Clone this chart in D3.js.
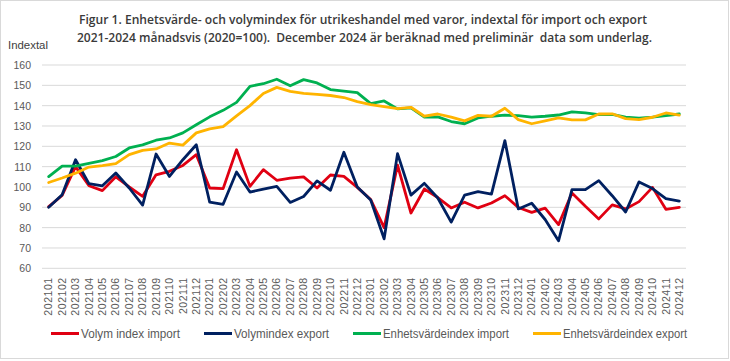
<!DOCTYPE html>
<html><head><meta charset="utf-8">
<script src="https://cdn.jsdelivr.net/npm/d3@7"></script>
<style>
html,body{margin:0;padding:0;background:#fff;}
svg{display:block;}
text{font-family:"Liberation Sans","Noto Sans",Arial,sans-serif;}
.title{font-family:"Open Sans","Liberation Sans",sans-serif;font-weight:600;white-space:pre;}
</style></head>
<body>
<svg id="chart" width="730" height="361"></svg>
<script>
const months = ["202101","202102","202103","202104","202105","202106","202107","202108","202109","202110","202111","202112",
"202201","202202","202203","202204","202205","202206","202207","202208","202209","202210","202211","202212",
"202301","202302","202303","202304","202305","202306","202307","202308","202309","202310","202311","202312",
"202401","202402","202403","202404","202405","202406","202407","202408","202409","202410","202411","202412"];

const volymImport = [90.3,95.8,110,100.6,98.2,105,100,95.4,106,107.7,110.6,115.9,
99.5,99.2,118.3,100.3,108.5,103.3,104.4,105,99.5,105.9,105.2,99.8,
93.8,80,110.7,87.2,99,94.8,89.7,92.5,89.7,92.1,95.7,89.9,
87.5,89.6,81.5,97,90.5,84.3,91.2,89.2,92.8,99.8,89,90];

const volymExport = [90,96.2,113.4,101.6,100.6,106.9,99.5,91.1,116.2,105.2,113.4,120.8,
92.5,91.5,107.4,97.5,99,100.3,92.4,95.3,103,98.4,117.1,100,
93.6,74.5,116.4,96,101.8,94.6,82.7,96,97.7,96.5,122.8,89.2,
92,84,73.5,98.7,98.7,103.1,95.7,87.7,102.5,99.2,94.3,93.1];

const enhetImport = [105.1,110.3,110.3,111.6,113,115,119.2,120.7,123,124.1,126.6,130.6,
134.5,137.7,141.6,149.5,150.8,153,149.8,152.8,151.2,147.9,147.2,146.4,
141,142.3,138.4,138.9,134.4,134.5,132.2,131.1,134,134.8,135.3,135.1,
134.4,134.8,135.4,136.9,136.4,135.6,135.7,134.4,133.9,134.4,135.1,135.9];

const enhetExport = [102.2,104.4,106.8,109.8,110.5,111.5,115.9,118,118.7,121.6,120.6,126.6,
128.6,129.7,135,140,146,149,147,146,145.5,145,144,142,
140.5,139.5,138.5,139.2,134.8,135.9,134.4,132.5,135.2,134.8,138.7,133.1,
131.1,132.5,134,133,133,135.9,136,133.6,133.1,134.3,136.4,135.4];

const yTicks = [60,70,80,90,100,110,120,130,140,150,160];
const seriesNames = ["Volym index import","Volymindex export","Enhetsvärdeindex import","Enhetsvärdeindex export"];
const seriesColors = ["#e00012","#002060","#00b050","#ffb400"];
const titleLines = ["Figur 1. Enhetsvärde- och volymindex för utrikeshandel med varor, indextal för import och export",
"2021-2024 månadsvis (2020=100).  December 2024 är beräknad med preliminär  data som underlag."];
const yAxisTitle = "Indextal";

(function(){
const svg = d3.select("#chart");
svg.append("rect").attr("x",0.5).attr("y",0.5).attr("width",728).attr("height",358)
  .attr("fill","#fff").attr("stroke","#d9d9d9");

const pl = 42, pr = 686, pt = 65, pb = 268.3;
const x = d3.scaleBand().domain(months).range([pl,pr]).padding(0);
const y = d3.scaleLinear().domain([60,160]).range([pb,pt]);

svg.append("g").selectAll("line").data(yTicks).join("line")
  .attr("x1",pl).attr("x2",pr)
  .attr("y1",d=>y(d)).attr("y2",d=>y(d))
  .attr("stroke","#d9d9d9").attr("stroke-width",1);

const yAxis = d3.axisLeft(y).tickValues(yTicks).tickSize(0).tickPadding(11);
const gy = svg.append("g").attr("transform",`translate(${pl},0)`).call(yAxis);
gy.select(".domain").remove();
gy.selectAll("text").attr("fill","#595959").style("font-size","10.5px");

const xAxis = d3.axisBottom(x).tickSize(0).tickPadding(0);
const gx = svg.append("g").attr("transform",`translate(0,${pb})`).call(xAxis);
gx.select(".domain").remove();
gx.selectAll("text")
  .attr("fill","#595959").style("font-size","10.5px").style("letter-spacing","0.55px")
  .attr("text-anchor","end").attr("transform","rotate(-90)")
  .attr("x",-9).attr("y",0).attr("dy","0.35em");

const allSeries = [volymImport, volymExport, enhetImport, enhetExport];
const line = d3.line().x((d,i)=>x(months[i])+x.bandwidth()/2).y(d=>y(d));
allSeries.forEach((s,k)=>{
  svg.append("path").datum(s).attr("d",line)
    .attr("fill","none").attr("stroke",seriesColors[k])
    .attr("stroke-width",2.8).attr("stroke-linejoin","round").attr("stroke-linecap","round");
});

const titleX = [363, 364.5], titleY = [23.5, 41.5], titleW = [568, 575];
titleLines.forEach((t,i)=>{
  svg.append("text").attr("class","title").attr("x",titleX[i]).attr("y",titleY[i]).attr("text-anchor","middle")
    .attr("fill","#3a3a3a").style("font-size","13px")
    .attr("textLength",titleW[i]).attr("lengthAdjust","spacingAndGlyphs").text(t);
});
svg.append("text").attr("x",8).attr("y",48.5).attr("fill","#404040")
  .style("font-size","10px").attr("textLength",40).attr("lengthAdjust","spacingAndGlyphs").text(yAxisTitle);

const legX = [51,204,353,533], legW = [99,95,126,124], legY = 333.5;
seriesNames.forEach((n,k)=>{
  svg.append("line").attr("x1",legX[k]).attr("x2",legX[k]+28).attr("y1",legY).attr("y2",legY)
    .attr("stroke",seriesColors[k]).attr("stroke-width",3);
  svg.append("text").attr("x",legX[k]+30).attr("y",legY).attr("dy","0.35em")
    .attr("fill","#595959").style("font-size","12px")
    .attr("textLength",legW[k]).attr("lengthAdjust","spacingAndGlyphs").text(n);
});
})();
</script>
</body></html>
